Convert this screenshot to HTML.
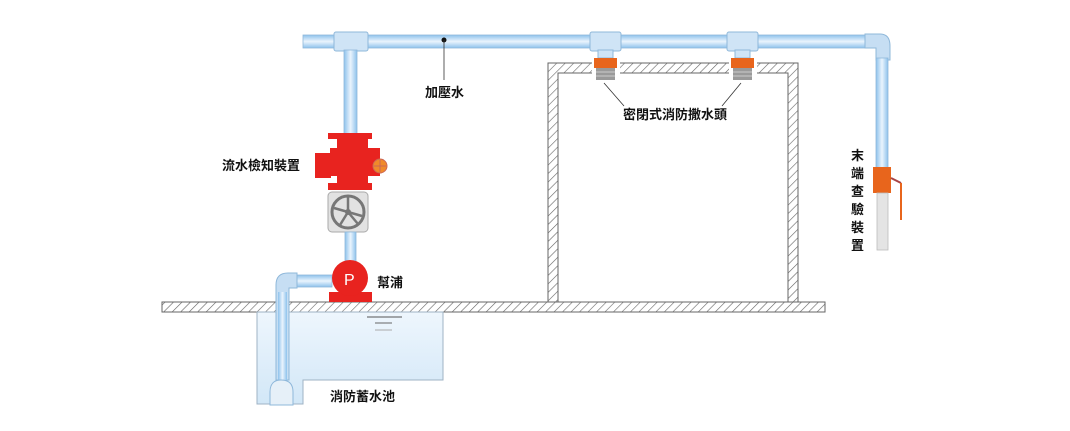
<!DOCTYPE html>
<html><head><meta charset="utf-8"><style>
html,body{margin:0;padding:0;background:#fff;}
svg{display:block;}
text{font-family:"Liberation Sans","Noto Sans CJK TC",sans-serif;font-size:13px;fill:#111;font-weight:bold;}
</style></head><body>
<svg width="1070" height="431" viewBox="0 0 1070 431" xmlns="http://www.w3.org/2000/svg">
<defs>
<pattern id="h" width="6" height="6" patternUnits="userSpaceOnUse" patternTransform="rotate(45)">
<rect width="6" height="6" fill="#fff"/><line x1="0" y1="0" x2="0" y2="6" stroke="#666" stroke-width="1.2"/>
</pattern>
<linearGradient id="pv" x1="0" y1="0" x2="1" y2="0"><stop offset="0" stop-color="#8ec2ec"/><stop offset="0.5" stop-color="#eaf4fd"/><stop offset="1" stop-color="#8ec2ec"/></linearGradient>
<linearGradient id="ph" x1="0" y1="0" x2="0" y2="1"><stop offset="0" stop-color="#8ec2ec"/><stop offset="0.5" stop-color="#eaf4fd"/><stop offset="1" stop-color="#8ec2ec"/></linearGradient>
<linearGradient id="tank" x1="0" y1="0" x2="0" y2="1"><stop offset="0" stop-color="#eef6fd"/><stop offset="1" stop-color="#d2e7f7"/></linearGradient>
</defs>

<rect x="162" y="302" width="663" height="10" fill="url(#h)" stroke="#666" stroke-width="1"/>
<path d="M548,302 V63 H798 V302 H788 V73 H558 V302 Z" fill="url(#h)" stroke="#666" stroke-width="1"/>
<rect x="592" y="60" width="28" height="16" fill="#fff"/>
<rect x="729" y="60" width="28" height="16" fill="#fff"/>

<path d="M257,312 H443 V380 H303 V404 H257 Z" fill="url(#tank)" stroke="#9fb3c4" stroke-width="1"/>
<line x1="367" y1="317" x2="402" y2="317" stroke="#555" stroke-width="1"/>
<line x1="375" y1="323" x2="392" y2="323" stroke="#666" stroke-width="1"/>
<line x1="375" y1="330" x2="392" y2="330" stroke="#aaa" stroke-width="1"/>

<rect x="303" y="35" width="575" height="13" fill="url(#ph)" stroke="#8fb8da" stroke-width="0.8"/>
<rect x="334" y="32" width="34" height="19" rx="2" fill="#cfe4f6" stroke="#8fb8da"/>
<rect x="590" y="32" width="31" height="19" rx="2" fill="#cfe4f6" stroke="#8fb8da"/>
<rect x="598" y="50" width="15" height="8" fill="#cfe4f6" stroke="#8fb8da"/>
<rect x="727" y="32" width="31" height="19" rx="2" fill="#cfe4f6" stroke="#8fb8da"/>
<rect x="735" y="50" width="15" height="8" fill="#cfe4f6" stroke="#8fb8da"/>
<rect x="594" y="58" width="23" height="10" fill="#e8651c"/>
<rect x="596" y="68" width="19" height="12" fill="#9a9a9a"/>
<line x1="596" y1="72" x2="615" y2="72" stroke="#ccc"/><line x1="596" y1="76" x2="615" y2="76" stroke="#ccc"/>
<rect x="731" y="58" width="23" height="10" fill="#e8651c"/>
<rect x="733" y="68" width="19" height="12" fill="#9a9a9a"/>
<line x1="733" y1="72" x2="752" y2="72" stroke="#ccc"/><line x1="733" y1="76" x2="752" y2="76" stroke="#ccc"/>
<line x1="604" y1="83" x2="624" y2="106" stroke="#333" stroke-width="0.8"/>
<line x1="741" y1="83" x2="722" y2="106" stroke="#333" stroke-width="0.8"/>
<text x="623" y="119">密閉式消防撒水頭</text>

<path d="M865,34 H880 Q890,34 890,46 V60 H876 V48 H865 Z" fill="#c6def3" stroke="#8fb8da"/>
<rect x="876" y="58" width="12" height="112" fill="url(#pv)" stroke="#8fb8da" stroke-width="0.8"/>
<rect x="873" y="167" width="18" height="26" fill="#e8651c"/>
<line x1="891" y1="178" x2="901" y2="183" stroke="#a44" stroke-width="2"/>
<line x1="901" y1="183" x2="901" y2="220" stroke="#e8651c" stroke-width="2"/>
<rect x="877" y="193" width="11" height="57" fill="#e4e4e4" stroke="#bbb" stroke-width="0.8"/>
<text x="851" y="160">末</text><text x="851" y="178">端</text><text x="851" y="196">查</text><text x="851" y="214">驗</text><text x="851" y="232">裝</text><text x="851" y="250">置</text>

<circle cx="444" cy="40" r="2.5" fill="#111"/>
<line x1="444" y1="40" x2="444" y2="80" stroke="#333" stroke-width="0.8"/>
<text x="425" y="97">加壓水</text>

<rect x="344" y="50" width="13" height="85" fill="url(#pv)" stroke="#8fb8da" stroke-width="0.8"/>
<rect x="337" y="137" width="31" height="48" fill="#e8231f"/>
<rect x="328" y="133" width="44" height="6" fill="#e8231f"/>
<rect x="328" y="183" width="44" height="7" fill="#e8231f"/>
<rect x="330" y="148" width="50" height="28" fill="#e8231f"/>
<rect x="315" y="153" width="16" height="25" fill="#e8231f"/>
<circle cx="380" cy="166" r="7" fill="#f08a2a" stroke="#c65" stroke-width="1"/>
<line x1="374" y1="166" x2="386" y2="166" stroke="#c65"/><line x1="380" y1="160" x2="380" y2="172" stroke="#c65"/>
<rect x="328" y="192" width="40" height="40" rx="4" fill="#e2e2e2" stroke="#aaa"/>
<circle cx="348" cy="212" r="16" fill="none" stroke="#777" stroke-width="3"/>
<circle cx="348" cy="212" r="3" fill="#777"/>
<g stroke="#777" stroke-width="2.5"><line x1="348" y1="212" x2="348" y2="197"/><line x1="348" y1="212" x2="362" y2="216"/><line x1="348" y1="212" x2="340" y2="225"/><line x1="348" y1="212" x2="334" y2="208"/><line x1="348" y1="212" x2="358" y2="224"/></g>
<rect x="345" y="232" width="11" height="32" fill="url(#pv)" stroke="#8fb8da" stroke-width="0.8"/>
<rect x="296" y="275" width="36" height="12" fill="url(#ph)" stroke="#8fb8da" stroke-width="0.8"/>
<path d="M276,380 V285 Q276,273 288,273 H297 V288 H289 V380 Z" fill="#c6def3" stroke="#8fb8da"/>
<rect x="278" y="292" width="9" height="88" fill="url(#pv)"/>
<path d="M270,392 Q270,380 281,380 Q293,380 293,392 V405 H270 Z" fill="#e6f0f8" stroke="#8fb8da"/>
<rect x="329" y="292" width="43" height="10" fill="#e8231f"/>
<circle cx="350" cy="278" r="18" fill="#e8231f"/>
<text x="344" y="285" style="fill:#fff;font-size:16px;font-weight:normal">P</text>
<text x="377" y="287">幫浦</text>
<text x="222" y="170">流水檢知裝置</text>
<text x="330" y="401">消防蓄水池</text>
</svg>
</body></html>
